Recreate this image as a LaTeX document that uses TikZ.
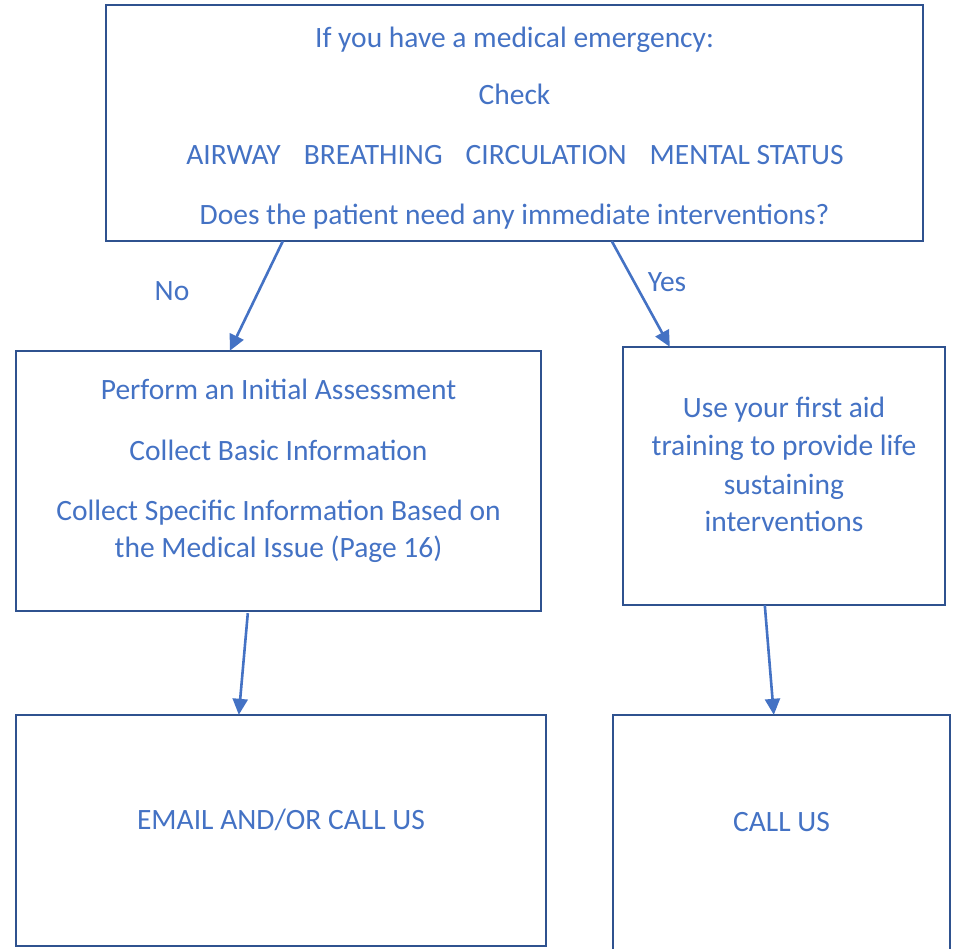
\documentclass[tikz,border=0pt]{standalone}
\usepackage{fontspec}
\setmainfont{Carlito}
\usetikzlibrary{arrows.meta,calc}
\definecolor{boxline}{HTML}{2F528F}
\definecolor{txtblue}{HTML}{4472C4}
\tikzset{
  box/.style={draw=boxline,line width=2.6pt},
  txt/.style={text=txtblue,font=\fontsize{29.5}{36}\selectfont,inner sep=0pt,anchor=base},
  conn/.style={draw=txtblue,line width=2.6pt,-{Triangle[length=16pt,width=15pt]}},
}
\begin{document}
\begin{tikzpicture}[x=1pt,y=-1pt]
\clip (0,0) rectangle (953,948);
\useasboundingbox (0,0) rectangle (953,948);
% boxes
\path[box] (106,5) rectangle (923,241);
\node[inner sep=0pt,minimum width=817pt,minimum height=236pt] (top) at (514.5,123) {};
\path[box] (16,351) rectangle (541,611);
\node[inner sep=0pt,minimum width=525pt,minimum height=260pt] (lmid) at (278.5,481) {};
\path[box] (623,347) rectangle (945,605);
\node[inner sep=0pt,minimum width=322pt,minimum height=258pt] (rmid) at (784,476) {};
\path[box] (16,715) rectangle (546,946);
\node[inner sep=0pt,minimum width=530pt,minimum height=231pt] (lbot) at (281,830.5) {};
\path[box] (613,715) rectangle (950,960);
\node[inner sep=0pt,minimum width=337pt,minimum height=245pt] (rbot) at (781.5,837.5) {};
% texts
\node[txt] (t1) at (514.5,47.5) {If you have a medical emergency:};
\node[txt] (t2) at (514.5,104.5) {Check};
\node[txt] (t3) at (515,164.5) {AIRWAY\hspace{23pt}BREATHING\hspace{23pt}CIRCULATION\hspace{23pt}MENTAL STATUS};
\node[txt] (t4) at (514.5,224) {Does the patient need any immediate interventions?};
\node[txt] (l1) at (278.5,399.5) {Perform an Initial Assessment};
\node[txt] (l2) at (278.5,460.5) {Collect Basic Information};
\node[txt] (l3) at (278.5,520.5) {Collect Specific Information Based on};
\node[txt] (l4) at (278.5,557.5) {the Medical Issue (Page 16)};
\node[txt] (r1) at (784,417.5) {Use your first aid};
\node[txt] (r2) at (784,455.5) {training to provide life};
\node[txt] (r3) at (784,494.5) {sustaining};
\node[txt] (r4) at (784,531.5) {interventions};
\node[txt] (b1) at (281,829.5) {EMAIL AND/OR CALL US};
\node[txt] (b2) at (781.5,831.5) {CALL US};
\node[txt] (no) at (172,300.5) {No};
\node[txt] (yes) at (667,291.5) {Yes};
% connectors
\draw[conn] ($(top.south west)+(177,0)$) -- ($(lmid.north west)+(214,0)$);
\draw[conn] ($(top.south west)+(506,0)$) -- ($(rmid.north west)+(47,0)$);
\draw[conn] ($(lmid.south west)+(232,2)$) -- ($(lbot.north west)+(223,0)$);
\draw[conn] ($(rmid.south west)+(142,0)$) -- ($(rbot.north west)+(161,0)$);
\end{tikzpicture}
\end{document}
